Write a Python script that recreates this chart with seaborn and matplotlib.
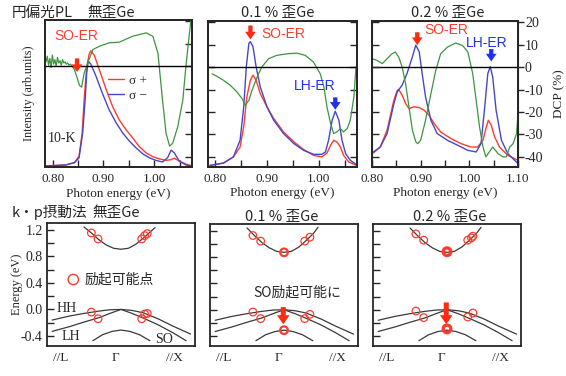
import numpy as np
import pandas as pd
import matplotlib
matplotlib.use("Agg")
import matplotlib.pyplot as plt
import seaborn as sns

# ---------------- PL spectra: energy (eV), intensity (frame fraction), DCP (%) ----------------
# panel 1: unstrained Ge
ePlus1 = [0.787, 0.826, 0.843, 0.852, 0.858, 0.862, 0.867, 0.872, 0.875, 0.882, 0.892, 0.905, 0.918, 0.931,
          0.944, 0.957, 0.970, 0.984, 0.997, 1.010, 1.023, 1.033, 1.039, 1.049, 1.062, 1.072]
iPlus1 = [0.007, 0.014, 0.03, 0.075, 0.23, 0.46, 0.68, 0.77, 0.79, 0.76, 0.66, 0.53, 0.41, 0.32,
          0.255, 0.20, 0.14, 0.095, 0.07, 0.055, 0.045, 0.05, 0.06, 0.04, 0.02, 0.01]
eMinus1 = [0.787, 0.826, 0.843, 0.852, 0.859, 0.864, 0.867, 0.870, 0.875, 0.885, 0.898, 0.911, 0.925, 0.938,
           0.951, 0.964, 0.977, 0.990, 1.003, 1.016, 1.026, 1.033, 1.039, 1.049, 1.062, 1.072]
iMinus1 = [0.007, 0.014, 0.03, 0.063, 0.23, 0.46, 0.64, 0.72, 0.70, 0.62, 0.50, 0.39, 0.30, 0.23,
           0.176, 0.13, 0.09, 0.063, 0.045, 0.034, 0.063, 0.115, 0.097, 0.04, 0.014, 0.007]
eDcp1 = [0.787, 0.7895, 0.792, 0.7945, 0.797, 0.7995, 0.802, 0.8045, 0.807, 0.8095, 0.812, 0.8145, 0.817,
         0.8195, 0.822, 0.8245, 0.827, 0.8295, 0.832, 0.8345, 0.837, 0.843, 0.848, 0.853, 0.857, 0.862,
         0.869, 0.879, 0.892, 0.911, 0.931, 0.957, 0.984, 0.997, 1.007, 1.016, 1.023, 1.030, 1.036, 1.046,
         1.056, 1.062, 1.069, 1.072]
dcp1 = [2.0, 4.5, 0.5, 3.5, -0.5, 5.0, 1.0, 3.0, 0.0, 4.0, 1.5, 2.5, 0.5, 3.0, 1.5, 2.0, 1.0, 1.5, 0.5, 1.0,
        0.5, -1.5, -5.0, -8.5, -9.2, -3.0, 1.5, 7.4, 8.9, 10.4, 10.7, 13.3, 14.8, 13.3, 5.9, -14.8, -29.6,
        -35.3, -34.0, -26.7, -14.8, 0.0, 14.8, 20.5]

# panel 2: 0.1 % strained Ge
ePlus2 = [0.790, 0.816, 0.835, 0.848, 0.855, 0.861, 0.868, 0.873, 0.879, 0.887, 0.900, 0.913, 0.932, 0.952,
          0.971, 0.990, 1.006, 1.016, 1.023, 1.029, 1.035, 1.042, 1.048, 1.058, 1.073]
iPlus2 = [0.011, 0.027, 0.069, 0.137, 0.275, 0.48, 0.595, 0.629, 0.595, 0.503, 0.412, 0.332, 0.24, 0.172,
          0.119, 0.08, 0.069, 0.096, 0.149, 0.183, 0.172, 0.137, 0.08, 0.034, 0.011]
eMinus2 = [0.790, 0.816, 0.835, 0.848, 0.855, 0.860, 0.865, 0.868, 0.873, 0.879, 0.887, 0.900, 0.913, 0.932,
           0.952, 0.971, 0.990, 1.006, 1.013, 1.019, 1.026, 1.032, 1.039, 1.045, 1.052, 1.061, 1.073]
iMinus2 = [0.011, 0.027, 0.069, 0.183, 0.41, 0.686, 0.847, 0.858, 0.824, 0.686, 0.549, 0.412, 0.32, 0.229,
           0.16, 0.114, 0.087, 0.087, 0.103, 0.183, 0.32, 0.382, 0.32, 0.183, 0.092, 0.046, 0.016]
eDcp2 = [0.794, 0.803, 0.816, 0.829, 0.842, 0.852, 0.858, 0.865, 0.871, 0.881, 0.890, 0.903, 0.919, 0.939,
         0.958, 0.974, 0.990, 1.003, 1.010, 1.016, 1.023, 1.029, 1.035, 1.042, 1.048, 1.055, 1.061, 1.068, 1.072]
dcp2 = [-3.0, -4.1, -5.9, -8.1, -11.1, -14.1, -17.0, -14.8, -10.4, -4.4, 0.0, 3.7, 5.2, 5.9,
        6.2, 5.2, 2.2, -3.0, -8.9, -17.8, -25.2, -29.6, -28.9, -27.4, -28.9, -27.4, -23.7, -13.3, 0.0]

# panel 3: 0.2 % strained Ge
ePlus3 = [0.803, 0.817, 0.831, 0.845, 0.852, 0.855, 0.862, 0.869, 0.876, 0.886, 0.897, 0.907, 0.917, 0.928,
          0.941, 0.962, 0.983, 1.003, 1.017, 1.028, 1.034, 1.039, 1.045, 1.052, 1.062, 1.079, 1.100]
iPlus3 = [0.096, 0.137, 0.252, 0.458, 0.526, 0.531, 0.492, 0.435, 0.40, 0.412, 0.407, 0.389, 0.355, 0.297,
          0.24, 0.195, 0.16, 0.137, 0.137, 0.183, 0.263, 0.32, 0.286, 0.206, 0.137, 0.08, 0.046]
eMinus3 = [0.803, 0.817, 0.831, 0.845, 0.852, 0.862, 0.872, 0.883, 0.890, 0.897, 0.903, 0.910, 0.921, 0.934,
           0.955, 0.976, 0.997, 1.014, 1.024, 1.031, 1.038, 1.043, 1.048, 1.055, 1.066, 1.079, 1.093, 1.100]
iMinus3 = [0.103, 0.137, 0.229, 0.435, 0.515, 0.561, 0.641, 0.755, 0.835, 0.789, 0.641, 0.481, 0.32, 0.229,
           0.183, 0.149, 0.114, 0.103, 0.16, 0.389, 0.641, 0.686, 0.618, 0.389, 0.183, 0.092, 0.046, 0.023]
eDcp3 = [0.800, 0.810, 0.821, 0.831, 0.841, 0.848, 0.855, 0.862, 0.869, 0.876, 0.883, 0.890, 0.894, 0.900,
         0.910, 0.921, 0.931, 0.941, 0.955, 0.972, 0.986, 0.997, 1.007, 1.014, 1.021, 1.028, 1.034, 1.041,
         1.048, 1.059, 1.069, 1.076, 1.083, 1.090, 1.097, 1.100]
dcp3 = [3.7, 3.0, 1.5, 3.7, 5.9, 6.7, 4.4, 0.0, -7.4, -17.8, -28.1, -33.3, -34.1, -32.6,
        -23.7, -11.9, -1.5, 5.9, 8.9, 10.7, 9.6, 6.7, -3.0, -14.8, -26.7, -35.6, -40.0, -37.8,
        -35.6, -38.5, -40.0, -40.0, -35.6, -34.1, -29.6, -20.7]

# arrows / labels in the PL panels (energy, DCP)
soArrowX = [0.848, 0.868, 0.893]
soArrowY = [(3.5, -2.5), (18.5, 12.3), (15.5, 9.8)]
lhArrowX = [None, 1.032, 1.045]
lhArrowY = [None, (-13.5, -19.0), (8.0, 2.5)]
soTextPos = [(0.803, 13.3), (0.890, 14.8), (0.907, 16.3)]
lhTextPos = [None, (0.952, -8.6), (0.993, 10.7)]

# ---------------- k.p band structure: k (-1 = //L, 1 = //X), energy (eV) ----------------
bandHhK = [-0.93, -0.7, -0.5, -0.3, -0.15, 0.0, 0.15, 0.3, 0.5, 0.7, 0.94]
bandHhE = [-0.16, -0.10, -0.06, -0.025, -0.005, 0.0, -0.015, -0.05, -0.14, -0.25, -0.37]
bandLhK = [-0.93, -0.7, -0.5, -0.3, -0.15, 0.0, 0.15, 0.3, 0.5, 0.7, 0.88]
bandLhE = [-0.33, -0.26, -0.19, -0.125, -0.06, 0.0, -0.06, -0.13, -0.23, -0.35, -0.47]
bandSoK = [-0.38, -0.25, -0.12, 0.0, 0.12, 0.25, 0.39]
bandSoE = [-0.47, -0.38, -0.33, -0.31, -0.33, -0.38, -0.47]
bandCbK = [-0.5, -0.4, -0.3, -0.2, -0.1, 0.0, 0.1, 0.2, 0.3, 0.4, 0.46]
bandCbE0 = [1.24, 1.15, 1.05, 0.97, 0.92, 0.905, 0.92, 0.98, 1.07, 1.17, 1.23]
bandCbE1 = [1.24, 1.125, 1.02, 0.94, 0.885, 0.87, 0.885, 0.95, 1.05, 1.16, 1.25]

excK0 = [-0.40, -0.31, 0.28, 0.32, 0.355, -0.40, -0.31, 0.28, 0.32, 0.355]
excE0 = [1.15, 1.06, 1.06, 1.11, 1.14, -0.04, -0.14, -0.14, -0.07, -0.06]
excK1 = [-0.42, -0.315, 0.28, 0.35, -0.42, -0.315, 0.28, 0.35]
excE1 = [1.125, 1.04, 1.04, 1.10, -0.035, -0.135, -0.135, -0.07]
excK2 = [-0.42, -0.315, 0.28, 0.33, 0.35, -0.42, -0.315, 0.28, 0.35]
excE2 = [1.15, 1.055, 1.055, 1.09, 1.115, -0.02, -0.12, -0.11, -0.05]
gammaE1 = [0.87, -0.31]
gammaE2 = [0.88, -0.29]

RED = "#ff3b2f"
BLUE = "#4646c8"
GREEN = "#3e9440"
ARROW_RED = "#ff2a10"
ARROW_BLUE = "#2030f0"

sns.set_style("ticks")
plt.rcParams["font.family"] = ["Liberation Serif", "Noto Sans CJK JP"]
plt.rcParams["axes.unicode_minus"] = False
JP = ["Noto Sans CJK JP", "DejaVu Sans"]

fig = plt.figure(figsize=(5.66, 3.76), dpi=100)

W, H = 566.0, 376.0


def axRect(x0, y0, x1, y1):
    return [x0 / W, 1 - y1 / H, (x1 - x0) / W, (y1 - y0) / H]


def arrow(ax, x, y0, y1, color, scale=11):
    ax.annotate("", xy=(x, y1), xytext=(x, y0),
                arrowprops=dict(arrowstyle="simple,head_width=0.7,head_length=0.5,tail_width=0.28",
                                fc=color, ec="none", mutation_scale=scale, shrinkA=0, shrinkB=0))


def plPanel(idx, rect, eP, iP, eM, iM, eD, dcp, xlim, xticks, xlabels):
    ax = fig.add_axes(axRect(*rect))
    df = pd.concat([pd.DataFrame({"E": eP, "I": iP, "pol": "σ +"}),
                    pd.DataFrame({"E": eM, "I": iM, "pol": "σ −"})])
    sns.lineplot(data=df, x="E", y="I", hue="pol", palette={"σ +": RED, "σ −": BLUE}, estimator=None,
                 sort=False, lw=1.0, ax=ax, legend=(idx == 0))
    ax.set_xlim(xlim)
    ax.set_ylim(0, 1)
    ax.set_yticks([])
    ax.set_xticks(xticks)
    ax.set_xticklabels(xlabels)
    ax.tick_params(axis="x", direction="in", length=5, width=1, pad=4.5, labelsize=9.5)
    ax.set_xlabel("Photon energy (eV)", fontsize=9.5)
    ax.xaxis.set_label_coords(0.5, -0.14)
    ax.set_ylabel("")
    for s in ax.spines.values():
        s.set_linewidth(1.3)
        s.set_visible(True)

    axd = ax.twinx()
    sns.lineplot(x=eD, y=dcp, color=GREEN, lw=0.9, ax=axd, estimator=None, sort=False)
    axd.axhline(0, color="black", lw=1.0)
    axd.set_ylim(-44.5, 20.5)
    axd.set_yticks([-40, -30, -20, -10, 0, 10, 20])
    axd.set_ylabel("")
    if idx == 0:
        axd.tick_params(axis="y", direction="in", length=5, width=1, left=False, right=True,
                        labelleft=False, labelright=False)
    elif idx == 1:
        axd.tick_params(axis="y", direction="in", length=5, width=1, left=True, right=True,
                        labelleft=False, labelright=False)
    else:
        axd.tick_params(axis="y", direction="out", length=4, width=1, left=False, right=True,
                        labelleft=False, labelright=True, labelsize=10, pad=1)
        axd.set_ylabel("DCP (%)", fontsize=9.5)
        axd.yaxis.set_label_coords(1.24, 0.5)
        axl = ax.twinx()
        axl.set_ylim(-44.5, 20.5)
        axl.set_yticks([-40, -30, -20, -10, 0, 10, 20])
        axl.tick_params(axis="y", direction="in", length=5, width=1, left=True, right=False,
                        labelleft=False, labelright=False)
    for s in axd.spines.values():
        s.set_linewidth(1.3)

    # annotations
    arrow(axd, soArrowX[idx], soArrowY[idx][0], soArrowY[idx][1], ARROW_RED)
    axd.text(soTextPos[idx][0], soTextPos[idx][1], "SO-ER", color=RED, fontsize=10,
             family="Liberation Sans", ha="left", va="center")
    if lhArrowX[idx] is not None:
        arrow(axd, lhArrowX[idx], lhArrowY[idx][0], lhArrowY[idx][1], ARROW_BLUE)
        axd.text(lhTextPos[idx][0], lhTextPos[idx][1], "LH-ER", color=ARROW_BLUE, fontsize=10,
                 family="Liberation Sans", ha="left", va="center")
    if idx == 0:
        ax.set_ylabel("Intensity (arb.units)", fontsize=8.7)
        ax.yaxis.set_label_coords(-0.07, 0.5)
        axd.text(0.790, -31.9, "10-K", fontsize=10, ha="left", va="center")
        leg = ax.legend(loc="upper left", bbox_to_anchor=(0.43, 0.63), frameon=False, fontsize=9.5,
                        handlelength=1.2, handletextpad=0.4, labelspacing=0.2, borderpad=0,
                        borderaxespad=0)
        for ln in leg.get_lines():
            ln.set_linewidth(1.0)
    return ax


def bandPanel(idx, rect, cbE, excK, excE, gammaE=None, gammaLw=1.0):
    ax = fig.add_axes(axRect(*rect))
    for k, e in [(bandHhK, bandHhE), (bandLhK, bandLhE), (bandSoK, bandSoE), (bandCbK, cbE)]:
        sns.lineplot(x=k, y=e, color="#3a3a3a", lw=0.9, ax=ax, estimator=None, sort=False)
    sns.scatterplot(x=excK, y=excE, ax=ax, marker="o", s=30, fc="none", ec=RED, linewidth=0.9, zorder=5)
    if gammaE is not None:
        sns.scatterplot(x=[0.0] * len(gammaE), y=gammaE, ax=ax, marker="o", s=30, fc="none", ec=RED,
                        linewidth=gammaLw, zorder=5)
    ax.set_xlim(-1, 1)
    ax.set_ylim(-0.55, 1.30)
    yt = [-0.4, -0.2, 0.0, 0.2, 0.4, 0.6, 0.8, 1.0, 1.2]
    ax.set_yticks(yt)
    if idx == 0:
        ax.set_yticklabels(["-0.4", "", "0.0", "", "0.4", "", "0.8", "", "1.2"])
        ax.set_ylabel("Energy (eV)", fontsize=9)
        ax.yaxis.set_label_coords(-0.165, 0.5)
    else:
        ax.set_yticklabels([])
        ax.set_ylabel("")
    ax.tick_params(axis="y", direction="in", length=5, width=1, pad=3, labelsize=10)
    ax.set_xticks([-0.82, -0.07, 0.72])
    ax.set_xticklabels(["//L", "Γ", "//X"])
    ax.tick_params(axis="x", length=0, pad=4, labelsize=9.5)
    ax.set_xlabel("")
    for s in ax.spines.values():
        s.set_linewidth(1.3)
        s.set_visible(True)
    return ax


xt12 = [0.80, 0.85, 0.90, 0.95, 1.00, 1.05]
xl12 = ["0.80", "", "0.90", "", "1.00", ""]
xt3 = [0.80, 0.85, 0.90, 0.95, 1.00, 1.05, 1.10]
xl3 = ["0.80", "", "0.90", "", "1.00", "", "1.10"]

plPanel(0, (45, 20, 192, 167), ePlus1, iPlus1, eMinus1, iMinus1, eDcp1, dcp1, (0.785, 1.074), xt12, xl12)
plPanel(1, (208, 21, 357, 167), ePlus2, iPlus2, eMinus2, iMinus2, eDcp2, dcp2, (0.786, 1.074), xt12, xl12)
plPanel(2, (372, 21, 518, 167), ePlus3, iPlus3, eMinus3, iMinus3, eDcp3, dcp3, (0.80, 1.10), xt3, xl3)

b0 = bandPanel(0, (47, 223, 195, 346), bandCbE0, excK0, excE0)
b1 = bandPanel(1, (210, 224, 358, 346), bandCbE1, excK1, excE1, gammaE1, 1.6)
b2 = bandPanel(2, (373, 224, 521, 346), bandCbE1, excK2, excE2, gammaE2, 2.4)

# band panel annotations
sns.scatterplot(x=[-0.645], y=[0.45], ax=b0, marker="o", s=55, fc="none", ec=RED, linewidth=1.0)
b0.text(-0.49, 0.45, "励起可能点", family=JP, fontsize=10, ha="left", va="center")
b0.text(-0.87, 0.02, "HH", fontsize=10, ha="left", va="center")
b0.text(-0.80, -0.41, "LH", fontsize=10, ha="left", va="center")
b0.text(0.46, -0.45, "SO", fontsize=10, ha="left", va="center")
b1.text(-0.42, 0.265, "SO励起可能に", family=JP, fontsize=10, ha="left", va="center")
arrow(b1, -0.01, 0.04, -0.22, ARROW_RED, scale=13)
arrow(b2, -0.01, 0.11, -0.22, ARROW_RED, scale=13)

# titles
fig.text(12 / W, 1 - 13 / H, "円偏光PL", family=JP, fontsize=10.5, ha="left", va="center")
fig.text(87 / W, 1 - 13 / H, "無歪Ge", family=JP, fontsize=10.5, ha="left", va="center")
fig.text(278 / W, 1 - 13 / H, "0.1 % 歪Ge", family=JP, fontsize=10.5, ha="center", va="center")
fig.text(448 / W, 1 - 13 / H, "0.2 % 歪Ge", family=JP, fontsize=10.5, ha="center", va="center")
fig.text(12 / W, 1 - 212 / H, "k・p摂動法", family=JP, fontsize=10.5, ha="left", va="center")
fig.text(92 / W, 1 - 213 / H, "無歪Ge", family=JP, fontsize=10.5, ha="left", va="center")
fig.text(282 / W, 1 - 217 / H, "0.1 % 歪Ge", family=JP, fontsize=10.5, ha="center", va="center")
fig.text(450 / W, 1 - 217 / H, "0.2 % 歪Ge", family=JP, fontsize=10.5, ha="center", va="center")

fig.savefig("out.png", dpi=100)
